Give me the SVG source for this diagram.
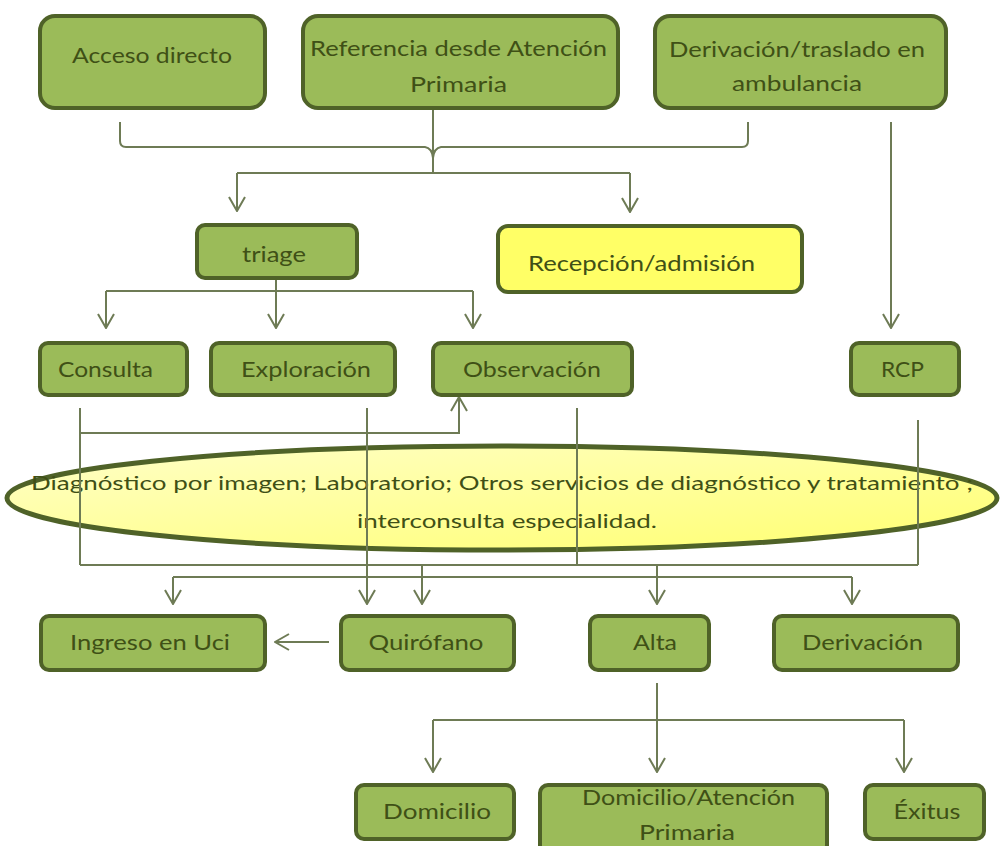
<svg xmlns="http://www.w3.org/2000/svg" width="1002" height="846" viewBox="0 0 1002 846">
<style>
.box{fill:#9bbb59;stroke:#4f6228;stroke-width:4}
.yel{fill:#ffff66;stroke:#4f6228;stroke-width:4}
.t{font-family:Lato,"Open Sans",sans-serif;font-size:21px;fill:#3f5016;text-anchor:middle}
.et{font-family:Lato,"Open Sans",sans-serif;font-size:20px;fill:#3f5016;text-anchor:middle}
.c{fill:none;stroke:#6e7b55;stroke-width:2}
</style>
<defs>
<marker id="ah" viewBox="0 0 16 18" refX="15" refY="9" markerWidth="16" markerHeight="18" markerUnits="userSpaceOnUse" orient="auto">
<path d="M1,1 L15,9 L1,17" fill="none" stroke="#6e7b55" stroke-width="2"/>
</marker>
<linearGradient id="eg" x1="0" y1="0" x2="1" y2="1">
<stop offset="0" stop-color="#ffffc8"/>
<stop offset="1" stop-color="#ffff70"/>
</linearGradient>
</defs>
<rect width="1002" height="846" fill="#ffffff"/>

<g id="n-diagnostico">
<ellipse cx="502" cy="498" rx="495" ry="52" fill="url(#eg)" stroke="#4f6228" stroke-width="5"/>
<text class="et" x="502" y="490" textLength="942" lengthAdjust="spacingAndGlyphs">Diagnóstico por imagen; Laboratorio; Otros servicios de diagnóstico y tratamiento ;</text>
<text class="et" x="507" y="528" textLength="300" lengthAdjust="spacingAndGlyphs">interconsulta especialidad.</text>
</g>

<g id="connectors">
<path class="c" d="M120,122 V141 Q120,147 126,147 H425 Q432,148 433,158"/>
<path class="c" d="M748,122 V141 Q748,147 742,147 H441 Q434,148 433,158"/>
<path class="c" d="M433,108 V173"/>
<path class="c" d="M237,173 H630"/>
<path class="c" d="M237,173 V211" marker-end="url(#ah)"/>
<path class="c" d="M630,173 V212" marker-end="url(#ah)"/>
<path class="c" d="M891,122 V328" marker-end="url(#ah)"/>
<path class="c" d="M276,278 V328" marker-end="url(#ah)"/>
<path class="c" d="M106,291 H473"/>
<path class="c" d="M106,291 V328" marker-end="url(#ah)"/>
<path class="c" d="M473,291 V328" marker-end="url(#ah)"/>
<path class="c" d="M80,408 V565"/>
<path class="c" d="M80,433 H459 V397" marker-end="url(#ah)"/>
<path class="c" d="M367,408 V604" marker-end="url(#ah)"/>
<path class="c" d="M577,408 V565"/>
<path class="c" d="M918,420 V565"/>
<path class="c" d="M80,565 H918"/>
<path class="c" d="M422,565 V604" marker-end="url(#ah)"/>
<path class="c" d="M657,565 V604" marker-end="url(#ah)"/>
<path class="c" d="M173,577 H852"/>
<path class="c" d="M173,577 V604" marker-end="url(#ah)"/>
<path class="c" d="M852,577 V604" marker-end="url(#ah)"/>
<path class="c" d="M329,642 H275" marker-end="url(#ah)"/>
<path class="c" d="M657,683 V772" marker-end="url(#ah)"/>
<path class="c" d="M433,720 H904"/>
<path class="c" d="M433,720 V772" marker-end="url(#ah)"/>
<path class="c" d="M904,720 V772" marker-end="url(#ah)"/>
</g>

<g id="n-acceso">
<rect class="box" x="40" y="16" width="225" height="92" rx="15"/>
<text class="t" x="152" y="63" textLength="160" lengthAdjust="spacingAndGlyphs">Acceso directo</text>
</g>
<g id="n-referencia">
<rect class="box" x="303" y="16" width="315" height="92" rx="15"/>
<text class="t" x="458.5" y="56" textLength="297" lengthAdjust="spacingAndGlyphs">Referencia desde Atención</text>
<text class="t" x="458.5" y="92" textLength="97" lengthAdjust="spacingAndGlyphs">Primaria</text>
</g>
<g id="n-derivacion-amb">
<rect class="box" x="655" y="16" width="291" height="92" rx="15"/>
<text class="t" x="797" y="57" textLength="256" lengthAdjust="spacingAndGlyphs">Derivación/traslado en</text>
<text class="t" x="797" y="91" textLength="130" lengthAdjust="spacingAndGlyphs">ambulancia</text>
</g>
<g id="n-triage">
<rect class="box" x="197" y="225" width="160" height="53" rx="8"/>
<text class="t" x="274" y="262" textLength="64" lengthAdjust="spacingAndGlyphs">triage</text>
</g>
<g id="n-recepcion">
<rect class="yel" x="498" y="226" width="304" height="66" rx="10"/>
<text class="t" x="641.5" y="271" textLength="227" lengthAdjust="spacingAndGlyphs">Recepción/admisión</text>
</g>
<g id="n-consulta">
<rect class="box" x="40" y="343" width="147" height="52" rx="8"/>
<text class="t" x="105.5" y="377" textLength="95" lengthAdjust="spacingAndGlyphs">Consulta</text>
</g>
<g id="n-exploracion">
<rect class="box" x="211" y="343" width="184" height="52" rx="8"/>
<text class="t" x="306" y="377" textLength="130" lengthAdjust="spacingAndGlyphs">Exploración</text>
</g>
<g id="n-observacion">
<rect class="box" x="433" y="343" width="199" height="52" rx="8"/>
<text class="t" x="532" y="377" textLength="138" lengthAdjust="spacingAndGlyphs">Observación</text>
</g>
<g id="n-rcp">
<rect class="box" x="851" y="343" width="108" height="52" rx="8"/>
<text class="t" x="902.5" y="377" textLength="43" lengthAdjust="spacingAndGlyphs">RCP</text>
</g>
<g id="n-uci">
<rect class="box" x="41" y="616" width="224" height="54" rx="8"/>
<text class="t" x="150" y="650" textLength="160" lengthAdjust="spacingAndGlyphs">Ingreso en Uci</text>
</g>
<g id="n-quirofano">
<rect class="box" x="341" y="616" width="173" height="54" rx="8"/>
<text class="t" x="426" y="650" textLength="115" lengthAdjust="spacingAndGlyphs">Quirófano</text>
</g>
<g id="n-alta">
<rect class="box" x="590" y="616" width="119" height="54" rx="8"/>
<text class="t" x="655" y="650" textLength="44" lengthAdjust="spacingAndGlyphs">Alta</text>
</g>
<g id="n-derivacion">
<rect class="box" x="774" y="616" width="184" height="54" rx="8"/>
<text class="t" x="862.5" y="650" textLength="121" lengthAdjust="spacingAndGlyphs">Derivación</text>
</g>
<g id="n-domicilio">
<rect class="box" x="356" y="785" width="158" height="54" rx="8"/>
<text class="t" x="437" y="819" textLength="108" lengthAdjust="spacingAndGlyphs">Domicilio</text>
</g>
<g id="n-domicilio-ap">
<rect class="box" x="540" y="785" width="287" height="68" rx="8"/>
<text class="t" x="688.5" y="805" textLength="213" lengthAdjust="spacingAndGlyphs">Domicilio/Atención</text>
<text class="t" x="687" y="840" textLength="96" lengthAdjust="spacingAndGlyphs">Primaria</text>
</g>
<g id="n-exitus">
<rect class="box" x="865" y="785" width="119" height="54" rx="8"/>
<text class="t" x="927" y="819" textLength="67" lengthAdjust="spacingAndGlyphs">Éxitus</text>
</g>
</svg>
